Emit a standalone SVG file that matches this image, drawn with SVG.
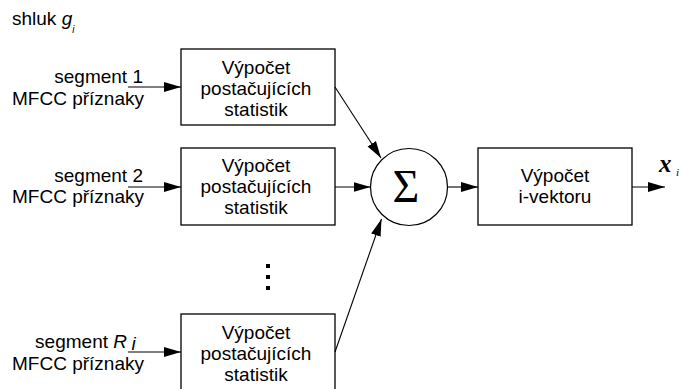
<svg xmlns="http://www.w3.org/2000/svg" width="681" height="389" viewBox="0 0 681 389">
<style>
.box{fill:#fff;stroke:#000;stroke-width:1.3}
.t{font-family:"Liberation Sans",Arial,sans-serif;font-size:19px;fill:#000}
.c{text-anchor:middle}
.e{text-anchor:end}
.ln{stroke:#000;stroke-width:1.1;fill:none}
.it{font-style:italic}
</style>
<defs>
<marker id="ah" markerUnits="userSpaceOnUse" markerWidth="18" markerHeight="11" refX="17" refY="5" orient="auto">
<path d="M0,0 L17,5 L0,10 z" fill="#000"/>
</marker>
</defs>
<rect width="681" height="389" fill="#fff"/>
<text class="t" x="12" y="25">shluk <tspan class="it">g</tspan><tspan class="it" font-size="10" dy="8">i</tspan></text>

<g id="in1">
<text class="t e" x="143" y="83">segment 1</text>
<text class="t e" x="144" y="105">MFCC příznaky</text>
</g>
<g id="in2">
<text class="t e" x="143" y="182">segment 2</text>
<text class="t e" x="144" y="203">MFCC příznaky</text>
</g>
<g id="in3">
<text class="t e" x="127" y="347.5">segment <tspan class="it">R</tspan></text>
<text class="t it" x="131.5" y="350" font-size="8">i</text>
<text class="t e" x="144" y="369.5">MFCC příznaky</text>
</g>

<g id="box1">
<rect class="box" x="181" y="49" width="154" height="76"/>
<text class="t c" x="256" y="74">Výpočet</text>
<text class="t c" x="256" y="95">postačujících</text>
<text class="t c" x="256" y="115.5">statistik</text>
</g>
<g id="box2">
<rect class="box" x="181" y="148" width="154" height="77"/>
<text class="t c" x="256" y="172">Výpočet</text>
<text class="t c" x="256" y="193">postačujících</text>
<text class="t c" x="256" y="213.5">statistik</text>
</g>
<g id="box3">
<rect class="box" x="181" y="314" width="154" height="80"/>
<text class="t c" x="256" y="339">Výpočet</text>
<text class="t c" x="256" y="360">postačujících</text>
<text class="t c" x="256" y="380.5">statistik</text>
</g>
<g id="dots" fill="#000">
<rect x="266" y="264" width="4" height="4"/>
<rect x="266" y="275" width="4" height="4"/>
<rect x="266" y="286" width="4" height="4"/>
</g>
<g id="sum">
<circle cx="409" cy="187" r="38.5" fill="#fff" stroke="#000" stroke-width="1.2"/>
<text x="406" y="202" font-family="'Liberation Serif','Times New Roman',serif" font-size="46" text-anchor="middle">Σ</text>
</g>
<g id="box4">
<rect class="box" x="478" y="148" width="154" height="77"/>
<text class="t c" x="555" y="182">Výpočet</text>
<text class="t c" x="555" y="203">i-vektoru</text>
</g>
<g id="out">
<text x="659" y="172" font-family="'Liberation Serif','Times New Roman',serif" font-size="25" font-weight="bold" font-style="italic">x</text>
<text x="676" y="176" font-family="'Liberation Serif','Times New Roman',serif" font-size="11" font-style="italic">i</text>
</g>

<g id="connectors">
<line class="ln" x1="128" y1="87" x2="181" y2="87" marker-end="url(#ah)"/>
<line class="ln" x1="128" y1="187" x2="181" y2="187" marker-end="url(#ah)"/>
<line class="ln" x1="128" y1="352" x2="181" y2="352" marker-end="url(#ah)"/>
<line class="ln" x1="335" y1="87" x2="381" y2="158" marker-end="url(#ah)"/>
<line class="ln" x1="335" y1="187" x2="370.5" y2="187" marker-end="url(#ah)"/>
<line class="ln" x1="335" y1="352" x2="381.5" y2="219" marker-end="url(#ah)"/>
<line class="ln" x1="447.5" y1="187" x2="478" y2="187" marker-end="url(#ah)"/>
<line class="ln" x1="632" y1="187" x2="665" y2="187" marker-end="url(#ah)"/>
</g>
</svg>
